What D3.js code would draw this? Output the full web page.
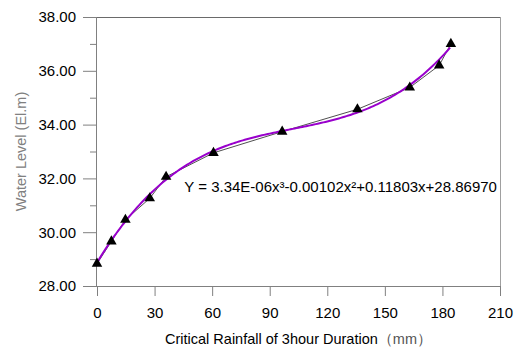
<!DOCTYPE html>
<html>
<head>
<meta charset="utf-8">
<script src="https://cdn.jsdelivr.net/npm/d3@7"></script>
<style>
  body { margin: 0; background: #fff; }
  text { font-family: Arial, "Liberation Sans", sans-serif; }
</style>
</head>
<body>
<div id="chart"></div>
<script>
// measured points (rainfall mm, water level El.m)
const rainfall = [0, 7.5, 14.8, 27.5, 36, 60.7, 96.5, 135.7, 163, 178.3, 184.4];
const waterLevel = [28.83, 29.66, 30.46, 31.26, 32.06, 32.95, 33.74, 34.57, 35.38, 36.2, 37.0];
// cubic trend line coefficients, as printed on the chart (x^3, x^2, x, const)
const fitCoefs = [3.34e-6, -0.00102, 0.11803, 28.8697];
const fitLabel = 'Y = 3.34E-06x\u00b3-0.00102x\u00b2+0.11803x+28.86970';
const xTicks = [0, 30, 60, 90, 120, 150, 180, 210];
const yTicks = [28, 30, 32, 34, 36, 38];
const yMinorTicks = [29, 31, 33, 35, 37];

const width = 515;
const height = 347;
const margin = {top: 17, right: 15, bottom: 61, left: 97};
const innerW = width - margin.left - margin.right;
const innerH = height - margin.top - margin.bottom;
const axisColor = '#808080';

const xScale = d3.scaleLinear().domain([0, 210]).range([0, innerW]);
const yScale = d3.scaleLinear().domain([28, 38]).range([innerH, 0]);

const svg = d3.select('#chart').append('svg')
  .attr('width', width)
  .attr('height', height);
const g = svg.append('g')
  .attr('transform', 'translate(' + margin.left + ',' + margin.top + ')');

// frame (top + right)
g.append('line').attr('x1', 0).attr('x2', innerW).attr('y1', 0.5).attr('y2', 0.5)
  .attr('stroke', '#6a6a6a');
g.append('line').attr('x1', innerW + 0.5).attr('x2', innerW + 0.5).attr('y1', 0).attr('y2', innerH)
  .attr('stroke', '#a0a0a0');

// left axis
const axisLeft = d3.axisLeft(yScale).tickValues(yTicks).tickSize(14).tickPadding(7)
  .tickFormat(d3.format('.2f'));
const yAxisG = g.append('g').call(axisLeft);
yAxisG.append('g').selectAll('line').data(yMinorTicks).enter().append('line')
  .attr('x1', -7).attr('x2', 0)
  .attr('y1', function(d) { return yScale(d) + 0.5; })
  .attr('y2', function(d) { return yScale(d) + 0.5; })
  .attr('stroke', axisColor);

// bottom axis
const axisBottom = d3.axisBottom(xScale).tickValues(xTicks).tickSize(10).tickPadding(11)
  .tickFormat(d3.format('d'));
const xAxisG = g.append('g').attr('transform', 'translate(0,' + innerH + ')').call(axisBottom);

[yAxisG, xAxisG].forEach(function(a) {
  a.select('.domain').attr('stroke', axisColor);
  a.selectAll('.tick line').attr('stroke', axisColor);
  a.selectAll('.tick text').attr('fill', '#000').attr('font-size', 15)
    .attr('font-family', 'Arial, "Liberation Sans", sans-serif');
});
xAxisG.select('.domain').attr('d', 'M' + (-14) + ',0.5H' + innerW);
yAxisG.select('.domain').attr('d', 'M-0.5,0V' + innerH);

// data: straight connecting line
const points = rainfall.map(function(x, i) { return {x: x, y: waterLevel[i]}; });
const line = d3.line()
  .x(function(d) { return xScale(d.x); })
  .y(function(d) { return yScale(d.y); });
g.append('path').datum(points)
  .attr('d', line)
  .attr('fill', 'none')
  .attr('stroke', '#222')
  .attr('stroke-width', 0.8);

// fitted cubic
const fit = function(x) {
  return ((fitCoefs[0] * x + fitCoefs[1]) * x + fitCoefs[2]) * x + fitCoefs[3];
};
const fitPts = d3.range(0, d3.max(rainfall) + 0.01, 1).map(function(x) { return {x: x, y: fit(x)}; });
g.append('path').datum(fitPts)
  .attr('d', line)
  .attr('fill', 'none')
  .attr('stroke', '#9900cc')
  .attr('stroke-width', 2);

// markers
g.selectAll('.pt').data(points).enter().append('path')
  .attr('class', 'pt')
  .attr('d', d3.symbol().type(d3.symbolTriangle).size(48))
  .attr('transform', function(d) { return 'translate(' + xScale(d.x) + ',' + yScale(d.y) + ')'; })
  .attr('fill', '#000');

// equation
g.append('text')
  .attr('x', xScale(45.5))
  .attr('y', 175)
  .attr('font-size', 15)
  .attr('fill', '#000')
  .text(fitLabel);

// axis titles
const xTitle = svg.append('text')
  .attr('x', margin.left + innerW / 2)
  .attr('y', 344)
  .attr('text-anchor', 'middle')
  .attr('font-size', 14.5)
  .attr('fill', '#000');
xTitle.append('tspan').text('Critical Rainfall of 3hour Duration');
xTitle.append('tspan').attr('fill', '#555').text('\uff08mm\uff09');

svg.append('text')
  .attr('transform', 'translate(26,' + (margin.top + innerH / 2) + ') rotate(-90)')
  .attr('text-anchor', 'middle')
  .attr('font-size', 14.5)
  .attr('fill', '#808080')
  .text('Water Level (El.m)');
</script>
</body>
</html>
